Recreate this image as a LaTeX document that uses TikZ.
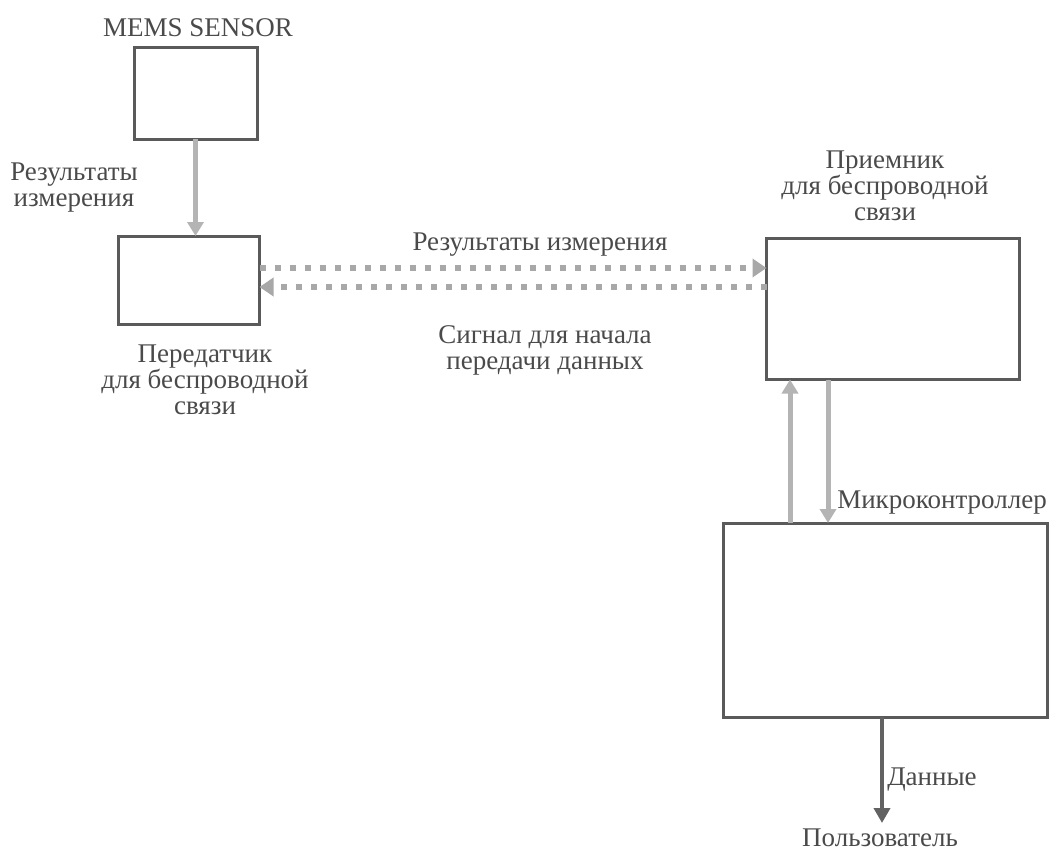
\documentclass[tikz,border=0pt]{standalone}
\usepackage{fontspec}
\setmainfont{Liberation Serif}[Script=Cyrillic]
\usetikzlibrary{arrows.meta,calc}
\definecolor{boxc}{HTML}{5A5A5A}
\definecolor{txtc}{HTML}{4A4A4A}
\definecolor{lightarr}{HTML}{B4B4B4}
\definecolor{dotarr}{HTML}{A8A8A8}
\definecolor{darkarr}{HTML}{626262}
\tikzset{
  blk/.style={draw=boxc,line width=3pt,minimum width=#1,inner sep=0pt,outer sep=0pt},
  lbl/.style={text=txtc,font=\fontsize{27}{26}\selectfont,align=center,inner sep=0pt},
  fatarr/.style={draw=lightarr,line width=5pt,-{Triangle[width=16pt,length=14pt]}},
  dotline/.style={draw=dotarr,line width=6pt,dash pattern=on 6pt off 9pt,-{Triangle[width=18pt,length=14pt]}},
  outarr/.style={draw=darkarr,line width=4.5pt,-{Triangle[width=16pt,length=15pt]}}
}
\begin{document}
\begin{tikzpicture}[x=1pt,y=-1pt]
\useasboundingbox (0,0) rectangle (1062,856);
% blocks
\node[blk=123pt,minimum height=91pt] (mems) at (195.5,93.5) {};
\node[blk=141pt,minimum height=88pt] (tx) at (189,280) {};
\node[blk=253pt,minimum height=141pt] (rx) at (893,309) {};
\node[blk=324pt,minimum height=194pt] (mcu) at (885,620) {};
\coordinate (user) at (882,823);
% labels
\node[lbl] (lmems) at (198,28) {MEMS SENSOR};
\node[lbl] (lmeas1) at (74,188) {Результаты\\измерения};
\node[lbl] (ltx) at (205,380) {Передатчик\\для беспроводной\\связи};
\node[lbl] (lrx) at (885,186) {Приемник\\для беспроводной\\связи};
\node[lbl] (lmeas2) at (540,245) {Результаты измерения};
\node[lbl] (lsig) at (545,350) {Сигнал для начала\\передачи данных};
\node[lbl] (lmcu) at (942,503) {Микроконтроллер};
\node[lbl] (ldata) at (932,780) {Данные};
\node[lbl] (luser) at (880,838) {Пользователь};
% connectors
\draw[fatarr] (mems.south) -- (mems.south |- tx.north);
\draw[dotline] (tx.east |- 0,268) -- (rx.west |- 0,268);
\draw[dotline] (rx.west |- 0,287) -- (tx.east |- 0,287);
\draw[fatarr] (mcu.north -| 790,0) -- (rx.south -| 790,0);
\draw[fatarr] (rx.south -| 828,0) -- (mcu.north -| 828,0);
\draw[outarr] (mcu.south -| user) -- (user);
\end{tikzpicture}
\end{document}
